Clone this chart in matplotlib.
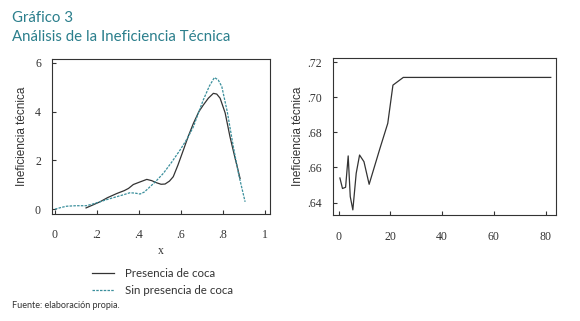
import matplotlib
matplotlib.use("Agg")
import matplotlib.pyplot as plt
from matplotlib.lines import Line2D

# ---- data ----
coca_x = [0.148,0.18,0.214,0.25,0.294,0.33,0.35,0.373,0.40,0.437,0.46,0.484,0.505,0.524,0.545,0.563,0.585,0.611,0.635,0.659,0.685,0.706,0.73,0.754,0.77,0.786,0.81,0.833,0.857,0.881]
coca_y = [0.05,0.17,0.30,0.47,0.64,0.76,0.85,1.01,1.10,1.22,1.17,1.08,1.02,1.03,1.15,1.33,1.80,2.42,3.00,3.52,4.00,4.27,4.55,4.75,4.72,4.55,3.95,2.97,2.10,1.26]
sin_x = [0.0,0.03,0.056,0.10,0.149,0.18,0.214,0.25,0.294,0.33,0.356,0.38,0.405,0.425,0.444,0.48,0.516,0.555,0.595,0.63,0.659,0.685,0.706,0.735,0.759,0.777,0.794,0.82,0.849,0.875,0.905]
sin_y = [0.0,0.07,0.12,0.14,0.14,0.21,0.30,0.40,0.51,0.60,0.67,0.66,0.62,0.70,0.85,1.14,1.47,1.92,2.42,2.90,3.38,4.00,4.48,5.05,5.40,5.30,5.03,4.00,2.56,1.40,0.30]
right_x = [0.5,1.5,2.7,3.7,4.5,5.5,6.8,8.1,9.8,11.8,16,19,21,25,82]
right_y = [0.654,0.648,0.6487,0.6666,0.6434,0.6358,0.6567,0.6671,0.6633,0.6504,0.671,0.6852,0.707,0.7114,0.7114]

left_xticks = [0, 0.2, 0.4, 0.6, 0.8, 1]
left_xlabels = ["0", ".2", ".4", ".6", ".8", "1"]
left_yticks = [0, 2, 4, 6]
right_xticks = [0, 20, 40, 60, 80]
right_yticks = [0.64, 0.66, 0.68, 0.70, 0.72]
right_ylabels = [".64", ".66", ".68", ".70", ".72"]

title1 = "Gráfico 3"
title2 = "Análisis de la Ineficiencia Técnica"
ylab = "Ineficiencia técnica"
series_names = ["Presencia de coca", "Sin presencia de coca"]
source = "Fuente: elaboración propia."

TEAL = "#2b7f8c"
DARK = "#333333"
DASH = "#3a8f9c"

fig = plt.figure(figsize=(5.8, 3.21), dpi=100)

ax1 = fig.add_axes([0.0897, 0.3333, 0.376, 0.483])
ax2 = fig.add_axes([0.574, 0.3287, 0.3845, 0.4907])

tickfont = dict(family="Liberation Serif", size=8.5)

for ax in (ax1, ax2):
    for s in ax.spines.values():
        s.set_color(DARK)
        s.set_linewidth(0.8)
    ax.tick_params(direction="in", length=3, width=0.8, color=DARK,
                   labelcolor=DARK)
    ax.tick_params(axis="x", pad=11)
    ax.tick_params(axis="y", pad=8)

ax1.set_ylabel(ylab, family="Liberation Sans", size=8.5, color=DARK, labelpad=5)
ax2.set_ylabel(ylab, family="Liberation Sans", size=8.5, color=DARK, labelpad=2)

ax1.plot(coca_x, coca_y, color=DARK, lw=0.9, solid_joinstyle="round")
ax1.plot(sin_x, sin_y, color=DASH, lw=0.9, ls=(0, (2, 1)))
ax1.set_xlim(-0.014, 1.024)
ax1.set_ylim(-0.2, 6.16)
ax1.set_xticks(left_xticks)
ax1.set_xticklabels(left_xlabels, **tickfont)
ax1.set_yticks(left_yticks)
ax1.set_yticklabels([str(v) for v in left_yticks], **tickfont)
ax1.set_xlabel("x", family="Liberation Serif", size=8.5, color=DARK, labelpad=3)

ax2.plot(right_x, right_y, color=DARK, lw=0.9)
ax2.set_xlim(-2.2, 84)
ax2.set_ylim(0.6326, 0.7225)
ax2.set_xticks(right_xticks)
ax2.set_xticklabels([str(v) for v in right_xticks], **tickfont)
ax2.set_yticks(right_yticks)
ax2.set_yticklabels(right_ylabels, **tickfont)

fig.text(12/580, 1-18/321, title1, family="Lato", size=10.8, color=TEAL, va="center")
fig.text(12/580, 1-37/321, title2, family="Lato", size=10.8, color=TEAL, va="center")

handles = [Line2D([], [], color=DARK, lw=0.9),
           Line2D([], [], color=DASH, lw=0.9, ls=(0, (2, 1)))]
fig.legend(handles, series_names, loc="upper left",
           bbox_to_anchor=(92/580, 1-268/321), frameon=False,
           prop=dict(family="Lato", size=8.3), handlelength=1.9,
           handletextpad=1.0, labelspacing=0.55, labelcolor=DARK,
           borderpad=0, borderaxespad=0)

fig.text(12/580, 1-305/321, source, family="Lato", size=6.5, color=DARK, va="center")

fig.savefig("out.png", dpi=100, facecolor="white")
